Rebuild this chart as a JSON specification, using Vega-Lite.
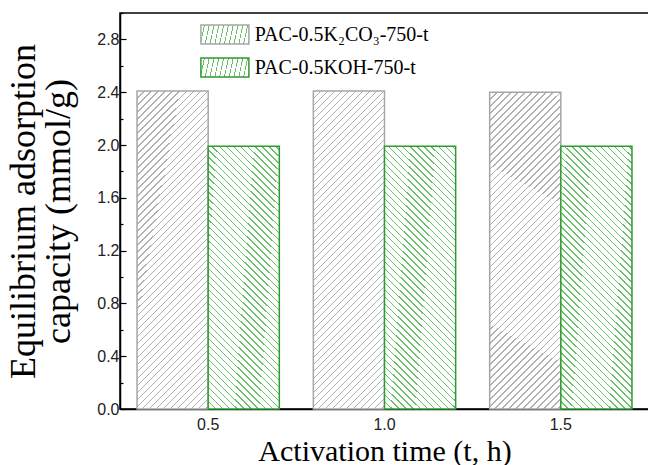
{
  "$schema": "https://vega.github.io/schema/vega-lite/v6.json",
  "width": 529,
  "height": 396,
  "autosize": {"type": "none"},
  "padding": {"left": 120, "top": 13, "right": 0, "bottom": 56},
  "background": "white",
  "config": {
    "view": {"stroke": "black", "strokeWidth": 1.5},
    "axis": {"grid": false, "domainColor": "black", "domainWidth": 1.5, "tickColor": "black", "tickWidth": 1.2, "labelFont": "Liberation Sans", "labelFontSize": 16, "labelColor": "#222", "titleFont": "Liberation Serif", "titleFontWeight": "normal", "titleColor": "black"}
  },
  "data": {
    "values": [
      {"t": "0.5", "sample": "PAC-0.5K₂CO₃-750-t", "capacity": 2.41},
      {"t": "0.5", "sample": "PAC-0.5KOH-750-t", "capacity": 1.99},
      {"t": "1.0", "sample": "PAC-0.5K₂CO₃-750-t", "capacity": 2.41},
      {"t": "1.0", "sample": "PAC-0.5KOH-750-t", "capacity": 1.99},
      {"t": "1.5", "sample": "PAC-0.5K₂CO₃-750-t", "capacity": 2.40},
      {"t": "1.5", "sample": "PAC-0.5KOH-750-t", "capacity": 1.99}
    ]
  },
  "mark": {"type": "bar", "strokeWidth": 1.5},
  "encoding": {
    "x": {
      "field": "t", "type": "nominal",
      "scale": {"paddingInner": 0.193, "paddingOuter": 0.0966},
      "axis": {"labelAngle": 0, "tickSize": -7, "labelPadding": 14, "labelFontSize": 16, "title": "Activation time (t, h)", "titleFontSize": 30, "titleBaseline": "alphabetic", "titleY": 51}
    },
    "xOffset": {"field": "sample", "type": "nominal", "sort": ["PAC-0.5K₂CO₃-750-t", "PAC-0.5KOH-750-t"], "scale": {"paddingInner": 0, "paddingOuter": 0}},
    "y": {
      "field": "capacity", "type": "quantitative",
      "scale": {"domain": [0, 3.0], "nice": false},
      "axis": {
        "values": [0, 0.2, 0.4, 0.6, 0.8, 1, 1.2, 1.4, 1.6, 1.8, 2, 2.2, 2.4, 2.6, 2.8, 3],
        "labelExpr": "round(datum.value*10) % 4 === 0 ? format(datum.value, '.1f') : ''",
        "tickSize": {"condition": {"test": "round(datum.value*10) % 4 === 0", "value": -6}, "value": -3},
        "labelPadding": 7,
        "labelFontSize": 16,
        "title": ["Equilibrium adsorption", "capacity (mmol/g)"],
        "titleFontSize": 36, "titleLineHeight": 35,
        "titleAngle": -90, "titleAlign": "center", "titleBaseline": "top",
        "titleX": -114, "titleY": 198
      }
    },
    "stroke": {
      "field": "sample", "type": "nominal",
      "scale": {"domain": ["PAC-0.5K₂CO₃-750-t", "PAC-0.5KOH-750-t"], "range": ["#a6a6a6", "#2e9b2e"]},
      "legend": {
        "title": null, "orient": "none", "direction": "vertical", "legendX": 94.4, "legendY": 11,
        "padding": 0, "rowPadding": 6, "labelFont": "Liberation Serif", "labelFontSize": 20, "labelColor": "black", "labelLimit": 0, "labelOffset": 19.4,
        "symbolType": "M-2.5,-1H2.5V1H-2.5Z", "symbolSize": 368.64, "symbolStrokeWidth": 1.5,
        "encode": {
          "symbols": {
            "update": {
              "fill": [
                {"test": "indexof(datum.value, 'KOH') < 0", "value": {"gradient": "linear", "x1": 0, "y1": 0, "x2": 1.2608, "y2": 0.4991, "stops": [
                  {"offset": 0, "color": "#b0b0b0"}, {"offset": 0.02, "color": "#b0b0b0"}, {"offset": 0.02, "color": "white"}, {"offset": 0.1, "color": "white"},
                  {"offset": 0.1, "color": "#b0b0b0"}, {"offset": 0.12, "color": "#b0b0b0"}, {"offset": 0.12, "color": "white"}, {"offset": 0.2, "color": "white"},
                  {"offset": 0.2, "color": "#b0b0b0"}, {"offset": 0.22, "color": "#b0b0b0"}, {"offset": 0.22, "color": "white"}, {"offset": 0.3, "color": "white"},
                  {"offset": 0.3, "color": "#b0b0b0"}, {"offset": 0.32, "color": "#b0b0b0"}, {"offset": 0.32, "color": "white"}, {"offset": 0.4, "color": "white"},
                  {"offset": 0.4, "color": "#b0b0b0"}, {"offset": 0.42, "color": "#b0b0b0"}, {"offset": 0.42, "color": "white"}, {"offset": 0.5, "color": "white"},
                  {"offset": 0.5, "color": "#b0b0b0"}, {"offset": 0.52, "color": "#b0b0b0"}, {"offset": 0.52, "color": "white"}, {"offset": 0.6, "color": "white"},
                  {"offset": 0.6, "color": "#b0b0b0"}, {"offset": 0.62, "color": "#b0b0b0"}, {"offset": 0.62, "color": "white"}, {"offset": 0.7, "color": "white"},
                  {"offset": 0.7, "color": "#b0b0b0"}, {"offset": 0.72, "color": "#b0b0b0"}, {"offset": 0.72, "color": "white"}, {"offset": 0.8, "color": "white"},
                  {"offset": 0.8, "color": "#b0b0b0"}, {"offset": 0.82, "color": "#b0b0b0"}, {"offset": 0.82, "color": "white"}, {"offset": 0.9, "color": "white"},
                  {"offset": 0.9, "color": "#b0b0b0"}, {"offset": 0.92, "color": "#b0b0b0"}, {"offset": 0.92, "color": "white"}, {"offset": 1, "color": "white"}
                ]}},
                {"value": {"gradient": "linear", "x1": 0, "y1": 1, "x2": 1.2608, "y2": 0.5009, "stops": [
                  {"offset": 0, "color": "#6bbf6b"}, {"offset": 0.02, "color": "#6bbf6b"}, {"offset": 0.02, "color": "white"}, {"offset": 0.1, "color": "white"},
                  {"offset": 0.1, "color": "#6bbf6b"}, {"offset": 0.12, "color": "#6bbf6b"}, {"offset": 0.12, "color": "white"}, {"offset": 0.2, "color": "white"},
                  {"offset": 0.2, "color": "#6bbf6b"}, {"offset": 0.22, "color": "#6bbf6b"}, {"offset": 0.22, "color": "white"}, {"offset": 0.3, "color": "white"},
                  {"offset": 0.3, "color": "#6bbf6b"}, {"offset": 0.32, "color": "#6bbf6b"}, {"offset": 0.32, "color": "white"}, {"offset": 0.4, "color": "white"},
                  {"offset": 0.4, "color": "#6bbf6b"}, {"offset": 0.42, "color": "#6bbf6b"}, {"offset": 0.42, "color": "white"}, {"offset": 0.5, "color": "white"},
                  {"offset": 0.5, "color": "#6bbf6b"}, {"offset": 0.52, "color": "#6bbf6b"}, {"offset": 0.52, "color": "white"}, {"offset": 0.6, "color": "white"},
                  {"offset": 0.6, "color": "#6bbf6b"}, {"offset": 0.62, "color": "#6bbf6b"}, {"offset": 0.62, "color": "white"}, {"offset": 0.7, "color": "white"},
                  {"offset": 0.7, "color": "#6bbf6b"}, {"offset": 0.72, "color": "#6bbf6b"}, {"offset": 0.72, "color": "white"}, {"offset": 0.8, "color": "white"},
                  {"offset": 0.8, "color": "#6bbf6b"}, {"offset": 0.82, "color": "#6bbf6b"}, {"offset": 0.82, "color": "white"}, {"offset": 0.9, "color": "white"},
                  {"offset": 0.9, "color": "#6bbf6b"}, {"offset": 0.92, "color": "#6bbf6b"}, {"offset": 0.92, "color": "white"}, {"offset": 1, "color": "white"}
                ]}}
              ]
            }
          }
        }
      }
    },
    "fill": {
      "condition": {"test": "indexof(datum.sample, 'KOH') < 0", "value": {"gradient": "linear", "x1": 0, "y1": 0, "x2": 0.26216, "y2": 1.17418, "stops": [
        {"offset": 0, "color": "#b0b0b0"}, {"offset": 0.00357, "color": "#b0b0b0"}, {"offset": 0.00357, "color": "white"}, {"offset": 0.01786, "color": "white"},
        {"offset": 0.01786, "color": "#b0b0b0"}, {"offset": 0.02143, "color": "#b0b0b0"}, {"offset": 0.02143, "color": "white"}, {"offset": 0.03571, "color": "white"},
        {"offset": 0.03571, "color": "#b0b0b0"}, {"offset": 0.03929, "color": "#b0b0b0"}, {"offset": 0.03929, "color": "white"}, {"offset": 0.05357, "color": "white"},
        {"offset": 0.05357, "color": "#b0b0b0"}, {"offset": 0.05714, "color": "#b0b0b0"}, {"offset": 0.05714, "color": "white"}, {"offset": 0.07143, "color": "white"},
        {"offset": 0.07143, "color": "#b0b0b0"}, {"offset": 0.075, "color": "#b0b0b0"}, {"offset": 0.075, "color": "white"}, {"offset": 0.08929, "color": "white"},
        {"offset": 0.08929, "color": "#b0b0b0"}, {"offset": 0.09286, "color": "#b0b0b0"}, {"offset": 0.09286, "color": "white"}, {"offset": 0.10714, "color": "white"},
        {"offset": 0.10714, "color": "#b0b0b0"}, {"offset": 0.11071, "color": "#b0b0b0"}, {"offset": 0.11071, "color": "white"}, {"offset": 0.125, "color": "white"},
        {"offset": 0.125, "color": "#b0b0b0"}, {"offset": 0.12857, "color": "#b0b0b0"}, {"offset": 0.12857, "color": "white"}, {"offset": 0.14286, "color": "white"},
        {"offset": 0.14286, "color": "#b0b0b0"}, {"offset": 0.14643, "color": "#b0b0b0"}, {"offset": 0.14643, "color": "white"}, {"offset": 0.16071, "color": "white"},
        {"offset": 0.16071, "color": "#b0b0b0"}, {"offset": 0.16429, "color": "#b0b0b0"}, {"offset": 0.16429, "color": "white"}, {"offset": 0.17857, "color": "white"},
        {"offset": 0.17857, "color": "#b0b0b0"}, {"offset": 0.18214, "color": "#b0b0b0"}, {"offset": 0.18214, "color": "white"}, {"offset": 0.19643, "color": "white"},
        {"offset": 0.19643, "color": "#b0b0b0"}, {"offset": 0.2, "color": "#b0b0b0"}, {"offset": 0.2, "color": "white"}, {"offset": 0.21429, "color": "white"},
        {"offset": 0.21429, "color": "#b0b0b0"}, {"offset": 0.21786, "color": "#b0b0b0"}, {"offset": 0.21786, "color": "white"}, {"offset": 0.23214, "color": "white"},
        {"offset": 0.23214, "color": "#b0b0b0"}, {"offset": 0.23571, "color": "#b0b0b0"}, {"offset": 0.23571, "color": "white"}, {"offset": 0.25, "color": "white"},
        {"offset": 0.25, "color": "#b0b0b0"}, {"offset": 0.25357, "color": "#b0b0b0"}, {"offset": 0.25357, "color": "white"}, {"offset": 0.26786, "color": "white"},
        {"offset": 0.26786, "color": "#b0b0b0"}, {"offset": 0.27143, "color": "#b0b0b0"}, {"offset": 0.27143, "color": "white"}, {"offset": 0.28571, "color": "white"},
        {"offset": 0.28571, "color": "#b0b0b0"}, {"offset": 0.28929, "color": "#b0b0b0"}, {"offset": 0.28929, "color": "white"}, {"offset": 0.30357, "color": "white"},
        {"offset": 0.30357, "color": "#b0b0b0"}, {"offset": 0.30714, "color": "#b0b0b0"}, {"offset": 0.30714, "color": "white"}, {"offset": 0.32143, "color": "white"},
        {"offset": 0.32143, "color": "#b0b0b0"}, {"offset": 0.325, "color": "#b0b0b0"}, {"offset": 0.325, "color": "white"}, {"offset": 0.33929, "color": "white"},
        {"offset": 0.33929, "color": "#b0b0b0"}, {"offset": 0.34286, "color": "#b0b0b0"}, {"offset": 0.34286, "color": "white"}, {"offset": 0.35714, "color": "white"},
        {"offset": 0.35714, "color": "#b0b0b0"}, {"offset": 0.36071, "color": "#b0b0b0"}, {"offset": 0.36071, "color": "white"}, {"offset": 0.375, "color": "white"},
        {"offset": 0.375, "color": "#b0b0b0"}, {"offset": 0.37857, "color": "#b0b0b0"}, {"offset": 0.37857, "color": "white"}, {"offset": 0.39286, "color": "white"},
        {"offset": 0.39286, "color": "#b0b0b0"}, {"offset": 0.39643, "color": "#b0b0b0"}, {"offset": 0.39643, "color": "white"}, {"offset": 0.41071, "color": "white"},
        {"offset": 0.41071, "color": "#b0b0b0"}, {"offset": 0.41429, "color": "#b0b0b0"}, {"offset": 0.41429, "color": "white"}, {"offset": 0.42857, "color": "white"},
        {"offset": 0.42857, "color": "#b0b0b0"}, {"offset": 0.43214, "color": "#b0b0b0"}, {"offset": 0.43214, "color": "white"}, {"offset": 0.44643, "color": "white"},
        {"offset": 0.44643, "color": "#b0b0b0"}, {"offset": 0.45, "color": "#b0b0b0"}, {"offset": 0.45, "color": "white"}, {"offset": 0.46429, "color": "white"},
        {"offset": 0.46429, "color": "#b0b0b0"}, {"offset": 0.46786, "color": "#b0b0b0"}, {"offset": 0.46786, "color": "white"}, {"offset": 0.48214, "color": "white"},
        {"offset": 0.48214, "color": "#b0b0b0"}, {"offset": 0.48571, "color": "#b0b0b0"}, {"offset": 0.48571, "color": "white"}, {"offset": 0.5, "color": "white"},
        {"offset": 0.5, "color": "#b0b0b0"}, {"offset": 0.50357, "color": "#b0b0b0"}, {"offset": 0.50357, "color": "white"}, {"offset": 0.51786, "color": "white"},
        {"offset": 0.51786, "color": "#b0b0b0"}, {"offset": 0.52143, "color": "#b0b0b0"}, {"offset": 0.52143, "color": "white"}, {"offset": 0.53571, "color": "white"},
        {"offset": 0.53571, "color": "#b0b0b0"}, {"offset": 0.53929, "color": "#b0b0b0"}, {"offset": 0.53929, "color": "white"}, {"offset": 0.55357, "color": "white"},
        {"offset": 0.55357, "color": "#b0b0b0"}, {"offset": 0.55714, "color": "#b0b0b0"}, {"offset": 0.55714, "color": "white"}, {"offset": 0.57143, "color": "white"},
        {"offset": 0.57143, "color": "#b0b0b0"}, {"offset": 0.575, "color": "#b0b0b0"}, {"offset": 0.575, "color": "white"}, {"offset": 0.58929, "color": "white"},
        {"offset": 0.58929, "color": "#b0b0b0"}, {"offset": 0.59286, "color": "#b0b0b0"}, {"offset": 0.59286, "color": "white"}, {"offset": 0.60714, "color": "white"},
        {"offset": 0.60714, "color": "#b0b0b0"}, {"offset": 0.61071, "color": "#b0b0b0"}, {"offset": 0.61071, "color": "white"}, {"offset": 0.625, "color": "white"},
        {"offset": 0.625, "color": "#b0b0b0"}, {"offset": 0.62857, "color": "#b0b0b0"}, {"offset": 0.62857, "color": "white"}, {"offset": 0.64286, "color": "white"},
        {"offset": 0.64286, "color": "#b0b0b0"}, {"offset": 0.64643, "color": "#b0b0b0"}, {"offset": 0.64643, "color": "white"}, {"offset": 0.66071, "color": "white"},
        {"offset": 0.66071, "color": "#b0b0b0"}, {"offset": 0.66429, "color": "#b0b0b0"}, {"offset": 0.66429, "color": "white"}, {"offset": 0.67857, "color": "white"},
        {"offset": 0.67857, "color": "#b0b0b0"}, {"offset": 0.68214, "color": "#b0b0b0"}, {"offset": 0.68214, "color": "white"}, {"offset": 0.69643, "color": "white"},
        {"offset": 0.69643, "color": "#b0b0b0"}, {"offset": 0.7, "color": "#b0b0b0"}, {"offset": 0.7, "color": "white"}, {"offset": 0.71429, "color": "white"},
        {"offset": 0.71429, "color": "#b0b0b0"}, {"offset": 0.71786, "color": "#b0b0b0"}, {"offset": 0.71786, "color": "white"}, {"offset": 0.73214, "color": "white"},
        {"offset": 0.73214, "color": "#b0b0b0"}, {"offset": 0.73571, "color": "#b0b0b0"}, {"offset": 0.73571, "color": "white"}, {"offset": 0.75, "color": "white"},
        {"offset": 0.75, "color": "#b0b0b0"}, {"offset": 0.75357, "color": "#b0b0b0"}, {"offset": 0.75357, "color": "white"}, {"offset": 0.76786, "color": "white"},
        {"offset": 0.76786, "color": "#b0b0b0"}, {"offset": 0.77143, "color": "#b0b0b0"}, {"offset": 0.77143, "color": "white"}, {"offset": 0.78571, "color": "white"},
        {"offset": 0.78571, "color": "#b0b0b0"}, {"offset": 0.78929, "color": "#b0b0b0"}, {"offset": 0.78929, "color": "white"}, {"offset": 0.80357, "color": "white"},
        {"offset": 0.80357, "color": "#b0b0b0"}, {"offset": 0.80714, "color": "#b0b0b0"}, {"offset": 0.80714, "color": "white"}, {"offset": 0.82143, "color": "white"},
        {"offset": 0.82143, "color": "#b0b0b0"}, {"offset": 0.825, "color": "#b0b0b0"}, {"offset": 0.825, "color": "white"}, {"offset": 0.83929, "color": "white"},
        {"offset": 0.83929, "color": "#b0b0b0"}, {"offset": 0.84286, "color": "#b0b0b0"}, {"offset": 0.84286, "color": "white"}, {"offset": 0.85714, "color": "white"},
        {"offset": 0.85714, "color": "#b0b0b0"}, {"offset": 0.86071, "color": "#b0b0b0"}, {"offset": 0.86071, "color": "white"}, {"offset": 0.875, "color": "white"},
        {"offset": 0.875, "color": "#b0b0b0"}, {"offset": 0.87857, "color": "#b0b0b0"}, {"offset": 0.87857, "color": "white"}, {"offset": 0.89286, "color": "white"},
        {"offset": 0.89286, "color": "#b0b0b0"}, {"offset": 0.89643, "color": "#b0b0b0"}, {"offset": 0.89643, "color": "white"}, {"offset": 0.91071, "color": "white"},
        {"offset": 0.91071, "color": "#b0b0b0"}, {"offset": 0.91429, "color": "#b0b0b0"}, {"offset": 0.91429, "color": "white"}, {"offset": 0.92857, "color": "white"},
        {"offset": 0.92857, "color": "#b0b0b0"}, {"offset": 0.93214, "color": "#b0b0b0"}, {"offset": 0.93214, "color": "white"}, {"offset": 0.94643, "color": "white"},
        {"offset": 0.94643, "color": "#b0b0b0"}, {"offset": 0.95, "color": "#b0b0b0"}, {"offset": 0.95, "color": "white"}, {"offset": 0.96429, "color": "white"},
        {"offset": 0.96429, "color": "#b0b0b0"}, {"offset": 0.96786, "color": "#b0b0b0"}, {"offset": 0.96786, "color": "white"}, {"offset": 0.98214, "color": "white"},
        {"offset": 0.98214, "color": "#b0b0b0"}, {"offset": 0.98571, "color": "#b0b0b0"}, {"offset": 0.98571, "color": "white"}, {"offset": 1, "color": "white"}
      ]}},
      "value": {"gradient": "linear", "x1": 0, "y1": 1, "x2": 0.37047, "y2": -0.3919, "stops": [
        {"offset": 0, "color": "#6bbf6b"}, {"offset": 0.00357, "color": "#6bbf6b"}, {"offset": 0.00357, "color": "white"}, {"offset": 0.01786, "color": "white"},
        {"offset": 0.01786, "color": "#6bbf6b"}, {"offset": 0.02143, "color": "#6bbf6b"}, {"offset": 0.02143, "color": "white"}, {"offset": 0.03571, "color": "white"},
        {"offset": 0.03571, "color": "#6bbf6b"}, {"offset": 0.03929, "color": "#6bbf6b"}, {"offset": 0.03929, "color": "white"}, {"offset": 0.05357, "color": "white"},
        {"offset": 0.05357, "color": "#6bbf6b"}, {"offset": 0.05714, "color": "#6bbf6b"}, {"offset": 0.05714, "color": "white"}, {"offset": 0.07143, "color": "white"},
        {"offset": 0.07143, "color": "#6bbf6b"}, {"offset": 0.075, "color": "#6bbf6b"}, {"offset": 0.075, "color": "white"}, {"offset": 0.08929, "color": "white"},
        {"offset": 0.08929, "color": "#6bbf6b"}, {"offset": 0.09286, "color": "#6bbf6b"}, {"offset": 0.09286, "color": "white"}, {"offset": 0.10714, "color": "white"},
        {"offset": 0.10714, "color": "#6bbf6b"}, {"offset": 0.11071, "color": "#6bbf6b"}, {"offset": 0.11071, "color": "white"}, {"offset": 0.125, "color": "white"},
        {"offset": 0.125, "color": "#6bbf6b"}, {"offset": 0.12857, "color": "#6bbf6b"}, {"offset": 0.12857, "color": "white"}, {"offset": 0.14286, "color": "white"},
        {"offset": 0.14286, "color": "#6bbf6b"}, {"offset": 0.14643, "color": "#6bbf6b"}, {"offset": 0.14643, "color": "white"}, {"offset": 0.16071, "color": "white"},
        {"offset": 0.16071, "color": "#6bbf6b"}, {"offset": 0.16429, "color": "#6bbf6b"}, {"offset": 0.16429, "color": "white"}, {"offset": 0.17857, "color": "white"},
        {"offset": 0.17857, "color": "#6bbf6b"}, {"offset": 0.18214, "color": "#6bbf6b"}, {"offset": 0.18214, "color": "white"}, {"offset": 0.19643, "color": "white"},
        {"offset": 0.19643, "color": "#6bbf6b"}, {"offset": 0.2, "color": "#6bbf6b"}, {"offset": 0.2, "color": "white"}, {"offset": 0.21429, "color": "white"},
        {"offset": 0.21429, "color": "#6bbf6b"}, {"offset": 0.21786, "color": "#6bbf6b"}, {"offset": 0.21786, "color": "white"}, {"offset": 0.23214, "color": "white"},
        {"offset": 0.23214, "color": "#6bbf6b"}, {"offset": 0.23571, "color": "#6bbf6b"}, {"offset": 0.23571, "color": "white"}, {"offset": 0.25, "color": "white"},
        {"offset": 0.25, "color": "#6bbf6b"}, {"offset": 0.25357, "color": "#6bbf6b"}, {"offset": 0.25357, "color": "white"}, {"offset": 0.26786, "color": "white"},
        {"offset": 0.26786, "color": "#6bbf6b"}, {"offset": 0.27143, "color": "#6bbf6b"}, {"offset": 0.27143, "color": "white"}, {"offset": 0.28571, "color": "white"},
        {"offset": 0.28571, "color": "#6bbf6b"}, {"offset": 0.28929, "color": "#6bbf6b"}, {"offset": 0.28929, "color": "white"}, {"offset": 0.30357, "color": "white"},
        {"offset": 0.30357, "color": "#6bbf6b"}, {"offset": 0.30714, "color": "#6bbf6b"}, {"offset": 0.30714, "color": "white"}, {"offset": 0.32143, "color": "white"},
        {"offset": 0.32143, "color": "#6bbf6b"}, {"offset": 0.325, "color": "#6bbf6b"}, {"offset": 0.325, "color": "white"}, {"offset": 0.33929, "color": "white"},
        {"offset": 0.33929, "color": "#6bbf6b"}, {"offset": 0.34286, "color": "#6bbf6b"}, {"offset": 0.34286, "color": "white"}, {"offset": 0.35714, "color": "white"},
        {"offset": 0.35714, "color": "#6bbf6b"}, {"offset": 0.36071, "color": "#6bbf6b"}, {"offset": 0.36071, "color": "white"}, {"offset": 0.375, "color": "white"},
        {"offset": 0.375, "color": "#6bbf6b"}, {"offset": 0.37857, "color": "#6bbf6b"}, {"offset": 0.37857, "color": "white"}, {"offset": 0.39286, "color": "white"},
        {"offset": 0.39286, "color": "#6bbf6b"}, {"offset": 0.39643, "color": "#6bbf6b"}, {"offset": 0.39643, "color": "white"}, {"offset": 0.41071, "color": "white"},
        {"offset": 0.41071, "color": "#6bbf6b"}, {"offset": 0.41429, "color": "#6bbf6b"}, {"offset": 0.41429, "color": "white"}, {"offset": 0.42857, "color": "white"},
        {"offset": 0.42857, "color": "#6bbf6b"}, {"offset": 0.43214, "color": "#6bbf6b"}, {"offset": 0.43214, "color": "white"}, {"offset": 0.44643, "color": "white"},
        {"offset": 0.44643, "color": "#6bbf6b"}, {"offset": 0.45, "color": "#6bbf6b"}, {"offset": 0.45, "color": "white"}, {"offset": 0.46429, "color": "white"},
        {"offset": 0.46429, "color": "#6bbf6b"}, {"offset": 0.46786, "color": "#6bbf6b"}, {"offset": 0.46786, "color": "white"}, {"offset": 0.48214, "color": "white"},
        {"offset": 0.48214, "color": "#6bbf6b"}, {"offset": 0.48571, "color": "#6bbf6b"}, {"offset": 0.48571, "color": "white"}, {"offset": 0.5, "color": "white"},
        {"offset": 0.5, "color": "#6bbf6b"}, {"offset": 0.50357, "color": "#6bbf6b"}, {"offset": 0.50357, "color": "white"}, {"offset": 0.51786, "color": "white"},
        {"offset": 0.51786, "color": "#6bbf6b"}, {"offset": 0.52143, "color": "#6bbf6b"}, {"offset": 0.52143, "color": "white"}, {"offset": 0.53571, "color": "white"},
        {"offset": 0.53571, "color": "#6bbf6b"}, {"offset": 0.53929, "color": "#6bbf6b"}, {"offset": 0.53929, "color": "white"}, {"offset": 0.55357, "color": "white"},
        {"offset": 0.55357, "color": "#6bbf6b"}, {"offset": 0.55714, "color": "#6bbf6b"}, {"offset": 0.55714, "color": "white"}, {"offset": 0.57143, "color": "white"},
        {"offset": 0.57143, "color": "#6bbf6b"}, {"offset": 0.575, "color": "#6bbf6b"}, {"offset": 0.575, "color": "white"}, {"offset": 0.58929, "color": "white"},
        {"offset": 0.58929, "color": "#6bbf6b"}, {"offset": 0.59286, "color": "#6bbf6b"}, {"offset": 0.59286, "color": "white"}, {"offset": 0.60714, "color": "white"},
        {"offset": 0.60714, "color": "#6bbf6b"}, {"offset": 0.61071, "color": "#6bbf6b"}, {"offset": 0.61071, "color": "white"}, {"offset": 0.625, "color": "white"},
        {"offset": 0.625, "color": "#6bbf6b"}, {"offset": 0.62857, "color": "#6bbf6b"}, {"offset": 0.62857, "color": "white"}, {"offset": 0.64286, "color": "white"},
        {"offset": 0.64286, "color": "#6bbf6b"}, {"offset": 0.64643, "color": "#6bbf6b"}, {"offset": 0.64643, "color": "white"}, {"offset": 0.66071, "color": "white"},
        {"offset": 0.66071, "color": "#6bbf6b"}, {"offset": 0.66429, "color": "#6bbf6b"}, {"offset": 0.66429, "color": "white"}, {"offset": 0.67857, "color": "white"},
        {"offset": 0.67857, "color": "#6bbf6b"}, {"offset": 0.68214, "color": "#6bbf6b"}, {"offset": 0.68214, "color": "white"}, {"offset": 0.69643, "color": "white"},
        {"offset": 0.69643, "color": "#6bbf6b"}, {"offset": 0.7, "color": "#6bbf6b"}, {"offset": 0.7, "color": "white"}, {"offset": 0.71429, "color": "white"},
        {"offset": 0.71429, "color": "#6bbf6b"}, {"offset": 0.71786, "color": "#6bbf6b"}, {"offset": 0.71786, "color": "white"}, {"offset": 0.73214, "color": "white"},
        {"offset": 0.73214, "color": "#6bbf6b"}, {"offset": 0.73571, "color": "#6bbf6b"}, {"offset": 0.73571, "color": "white"}, {"offset": 0.75, "color": "white"},
        {"offset": 0.75, "color": "#6bbf6b"}, {"offset": 0.75357, "color": "#6bbf6b"}, {"offset": 0.75357, "color": "white"}, {"offset": 0.76786, "color": "white"},
        {"offset": 0.76786, "color": "#6bbf6b"}, {"offset": 0.77143, "color": "#6bbf6b"}, {"offset": 0.77143, "color": "white"}, {"offset": 0.78571, "color": "white"},
        {"offset": 0.78571, "color": "#6bbf6b"}, {"offset": 0.78929, "color": "#6bbf6b"}, {"offset": 0.78929, "color": "white"}, {"offset": 0.80357, "color": "white"},
        {"offset": 0.80357, "color": "#6bbf6b"}, {"offset": 0.80714, "color": "#6bbf6b"}, {"offset": 0.80714, "color": "white"}, {"offset": 0.82143, "color": "white"},
        {"offset": 0.82143, "color": "#6bbf6b"}, {"offset": 0.825, "color": "#6bbf6b"}, {"offset": 0.825, "color": "white"}, {"offset": 0.83929, "color": "white"},
        {"offset": 0.83929, "color": "#6bbf6b"}, {"offset": 0.84286, "color": "#6bbf6b"}, {"offset": 0.84286, "color": "white"}, {"offset": 0.85714, "color": "white"},
        {"offset": 0.85714, "color": "#6bbf6b"}, {"offset": 0.86071, "color": "#6bbf6b"}, {"offset": 0.86071, "color": "white"}, {"offset": 0.875, "color": "white"},
        {"offset": 0.875, "color": "#6bbf6b"}, {"offset": 0.87857, "color": "#6bbf6b"}, {"offset": 0.87857, "color": "white"}, {"offset": 0.89286, "color": "white"},
        {"offset": 0.89286, "color": "#6bbf6b"}, {"offset": 0.89643, "color": "#6bbf6b"}, {"offset": 0.89643, "color": "white"}, {"offset": 1, "color": "white"}
      ]}
    }
  }
}
